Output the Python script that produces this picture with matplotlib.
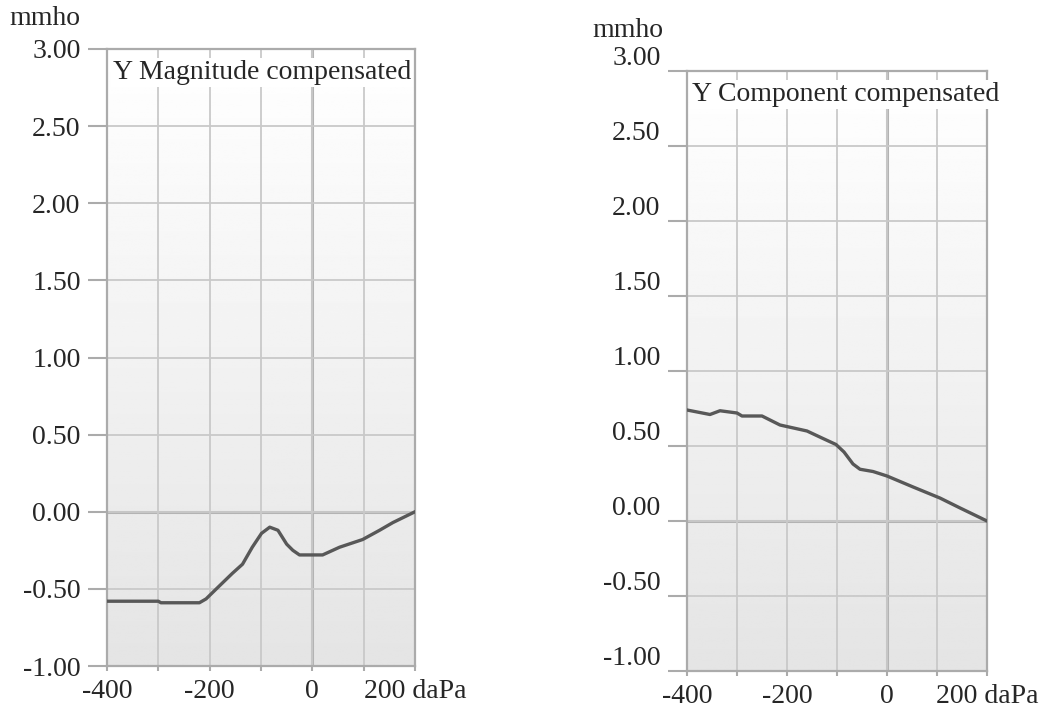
import numpy as np
import matplotlib.pyplot as plt

plt.rcParams['font.family'] = ['Liberation Serif', 'DejaVu Serif']
plt.rcParams['axes.unicode_minus'] = False

# pressure axis (daPa) and admittance (mmho)
mag_pressure = [-400, -300, -295, -220, -207, -187, -156, -136, -117, -99, -83,
                -67, -50, -38, -25, 20, 53, 98, 131, 157, 200]
mag_value = [-0.58, -0.58, -0.59, -0.59, -0.565, -0.50, -0.40, -0.34, -0.23, -0.14, -0.10,
             -0.12, -0.21, -0.25, -0.28, -0.28, -0.23, -0.18, -0.12, -0.07, 0.00]

comp_pressure = [-400, -354, -334, -300, -290, -250, -214, -160, -128, -102, -86,
                 -68, -54, -28, 0, 52, 106, 146, 200]
comp_value = [0.74, 0.71, 0.735, 0.72, 0.70, 0.70, 0.64, 0.60, 0.55, 0.51, 0.46,
              0.38, 0.345, 0.33, 0.30, 0.227, 0.153, 0.087, 0.00]

x_major = [-400, -200, 0, 200]
x_labels = ['-400', '-200', '0', '200 daPa']
x_minor = [-300, -100, 100]
y_ticks = [-1.0, -0.5, 0.0, 0.5, 1.0, 1.5, 2.0, 2.5, 3.0]
y_labels = ['%.2f' % v for v in y_ticks]

GRID = '#c9c9c9'
EDGE = '#ababab'
LINE = '#585858'
TXT = '#262626'
FS = 20

W, H = 1059, 708
fig = plt.figure(figsize=(W / 100, H / 100), dpi=100)


def px_axes(x0, x1, top, bottom):
    return fig.add_axes([x0 / W, 1 - bottom / H, (x1 - x0) / W, (bottom - top) / H])


def draw_panel(ax, xs, ys, title, label_va):
    ax.set_xlim(-400, 200)
    ax.set_ylim(-1.0, 3.0)
    # soft vertical gradient background
    grad = np.linspace(0.895, 1.0, 256)[:, None]
    ax.imshow(grad, aspect='auto', cmap='gray', vmin=0, vmax=1,
              extent=(-400, 200, -1.0, 3.0), origin='lower', zorder=0)
    ax.set_xticks(x_major)
    ax.set_xticklabels(x_labels)
    ax.set_xticks(x_minor, minor=True)
    ax.set_yticks(y_ticks)
    ax.set_yticklabels(y_labels)
    ax.grid(True, which='both', color=GRID, lw=1.3, zorder=1)
    ax.axhline(0, color='#b3b3b3', lw=2.2, zorder=1.5)
    ax.axvline(0, color='#b3b3b3', lw=2.2, zorder=1.5)
    for sp in ax.spines.values():
        sp.set_color(EDGE)
        sp.set_linewidth(1.6)
    ax.tick_params(axis='y', length=14, width=1.5, color=EDGE, pad=5,
                   labelsize=FS, labelcolor=TXT)
    ax.tick_params(axis='x', which='both', length=3.5, width=1.5, color=EDGE,
                   pad=6, labelsize=FS, labelcolor=TXT)
    for lab in ax.get_yticklabels():
        lab.set_verticalalignment(label_va)
    ax.plot(xs, ys, color=LINE, lw=2.4, zorder=3)
    ax.text(0.018, 0.982, title, transform=ax.transAxes, ha='left', va='top',
            fontsize=FS, color=TXT, zorder=4, clip_on=False,
            bbox=dict(facecolor='white', edgecolor='none', pad=1.5))


ax1 = px_axes(107, 415, 49, 666)
draw_panel(ax1, mag_pressure, mag_value, 'Y Magnitude compensated', 'center_baseline')

ax2 = px_axes(687, 987, 71, 671)
draw_panel(ax2, comp_pressure, comp_value, 'Y Component compensated', 'bottom')

fig.text(80 / W, 1 - 25 / H, 'mmho', ha='right', va='baseline', fontsize=FS, color=TXT)
fig.text(663 / W, 1 - 37 / H, 'mmho', ha='right', va='baseline', fontsize=FS, color=TXT)

fig.savefig('out.png', dpi=100)
